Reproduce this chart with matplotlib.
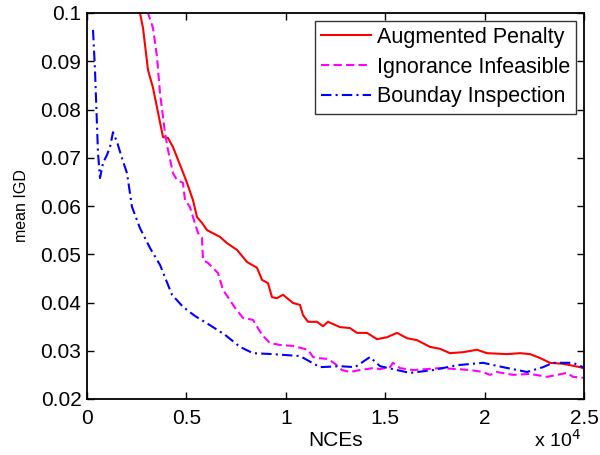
import matplotlib
matplotlib.use("Agg")
import matplotlib.pyplot as plt
import numpy as np

# ---- data ----
ap_x = [2300, 2666, 2817, 3068, 3320, 3823, 4074, 4326, 4779, 5030, 5332, 5533, 5785, 6036, 6690,
        7042, 7545, 8048, 8551, 8803, 9105, 9306, 9557, 9859, 10362, 10714, 10865, 11117,
        11570, 11871, 12123, 12726, 13229, 13581, 14085, 14588, 15090, 15594, 16097, 16600,
        17254, 17757, 18260, 18913, 19618, 20121, 21127, 21781, 22284, 22787, 23290, 23944,
        24799, 24950]
ap_y = [0.1090, 0.1000, 0.0969, 0.0882, 0.0845, 0.0743, 0.0741, 0.0722, 0.0675, 0.0648, 0.0612,
        0.0577, 0.0565, 0.0550, 0.0536, 0.0523, 0.0509, 0.0484, 0.0472, 0.0447, 0.0440,
        0.0411, 0.0409, 0.0416, 0.0399, 0.0395, 0.0374, 0.0360, 0.0360, 0.0351, 0.0360,
        0.0349, 0.0347, 0.0337, 0.0337, 0.0324, 0.0328, 0.0337, 0.0326, 0.0322, 0.0308,
        0.0304, 0.0295, 0.0297, 0.0302, 0.0295, 0.0293, 0.0295, 0.0293, 0.0285, 0.0275,
        0.0273, 0.0266, 0.0264]

ii_x = [2800, 3068, 3320, 3521, 3672, 3924, 4074, 4326, 4527, 4829, 4930, 5181, 5332, 5584, 5785,
        5835, 6087, 6590, 6841, 7193, 7445, 7847, 8350, 8803, 9205, 9708, 10362, 11117,
        11368, 11570, 12123, 12475, 12827, 13229, 13732, 14386, 14738, 15241, 15392, 15744,
        16398, 17103, 17757, 18612, 19266, 19920, 20272, 20624, 21429, 22284, 23139, 23642,
        24145, 24447, 24950]
ii_y = [0.1090, 0.1000, 0.0969, 0.0909, 0.0834, 0.0751, 0.0716, 0.0668, 0.0654, 0.0648, 0.0612,
        0.0598, 0.0577, 0.0544, 0.0534, 0.0488, 0.0482, 0.0461, 0.0426, 0.0405, 0.0389,
        0.0368, 0.0364, 0.0333, 0.0316, 0.0312, 0.0310, 0.0302, 0.0287, 0.0285, 0.0283,
        0.0273, 0.0260, 0.0256, 0.0260, 0.0264, 0.0262, 0.0266, 0.0275, 0.0264, 0.0260,
        0.0262, 0.0264, 0.0262, 0.0260, 0.0256, 0.0250, 0.0256, 0.0250, 0.0252, 0.0246,
        0.0250, 0.0254, 0.0246, 0.0244]

bi_x = [302, 402, 553, 654, 805, 1006, 1157, 1308, 1509, 1761, 2012, 2264, 2666, 3169, 3672,
        4276, 4829, 5433, 6187, 6942, 7696, 8350, 9356, 10714, 11720, 12726, 13481, 14235,
        14738, 16247, 17404, 18612, 19920, 20926, 22133, 22938, 23441, 24447, 24950]
bi_y = [0.0965, 0.0882, 0.0710, 0.0658, 0.0689, 0.0706, 0.0722, 0.0753, 0.0733, 0.0699, 0.0668,
        0.0598, 0.0554, 0.0513, 0.0478, 0.0416, 0.0391, 0.0372, 0.0353, 0.0333, 0.0308,
        0.0295, 0.0293, 0.0289, 0.0266, 0.0268, 0.0266, 0.0287, 0.0268, 0.0254, 0.0260,
        0.0270, 0.0275, 0.0266, 0.0256, 0.0266, 0.0275, 0.0275, 0.0266]

labels = ["Augmented Penalty", "Ignorance Infeasible", "Bounday Inspection"]
x_ticks = [0, 5000, 10000, 15000, 20000, 25000]
x_tick_labels = ["0", "0.5", "1", "1.5", "2", "2.5"]
y_ticks = [0.02, 0.03, 0.04, 0.05, 0.06, 0.07, 0.08, 0.09, 0.1]
y_tick_labels = ["0.02", "0.03", "0.04", "0.05", "0.06", "0.07", "0.08", "0.09", "0.1"]

plt.rcParams['font.family'] = ['Liberation Sans', 'DejaVu Sans']

fig = plt.figure(figsize=(6.0, 4.55), dpi=100)
ax = fig.add_axes([87/600, 1-399/455, (584-87)/600, (399-13)/455])

ax.plot(ap_x, ap_y, color='#ff0000', linestyle='-', linewidth=1.5, label=labels[0])
ax.plot(ii_x, ii_y, color='#ff00ff', linestyle=(0, (4, 2)), linewidth=1.5, label=labels[1])
ax.plot(bi_x, bi_y, color='#0000ff', linestyle=(0, (5, 2, 1, 2)), linewidth=1.5, label=labels[2])

ax.set_xlim(0, 25000)
ax.set_ylim(0.02, 0.1)
ax.set_xticks(x_ticks)
ax.set_xticklabels(x_tick_labels)
ax.set_yticks(y_ticks)
ax.set_yticklabels(y_tick_labels)
ax.tick_params(direction='in', top=True, right=True, length=5, width=1.0, labelsize=15)
ax.tick_params(axis='x', pad=7)
ax.tick_params(axis='y', pad=4)
for s in ax.spines.values():
    s.set_linewidth(1.3)

ax.set_xlabel("NCEs", fontsize=15, labelpad=2)
ax.set_ylabel("mean IGD", fontsize=11.5, labelpad=8)

leg = ax.legend(loc='upper right', fontsize=15.5, frameon=True, fancybox=False,
                edgecolor='black', handlelength=2.3, handletextpad=0.28,
                borderpad=0.3, labelspacing=0.4, borderaxespad=0.35)
leg.get_frame().set_linewidth(1.0)

fig.text(534/600, 1-447/455, r'x 10$^{4}$', fontsize=14, ha='left', va='baseline')

fig.savefig("out.png", dpi=100)
